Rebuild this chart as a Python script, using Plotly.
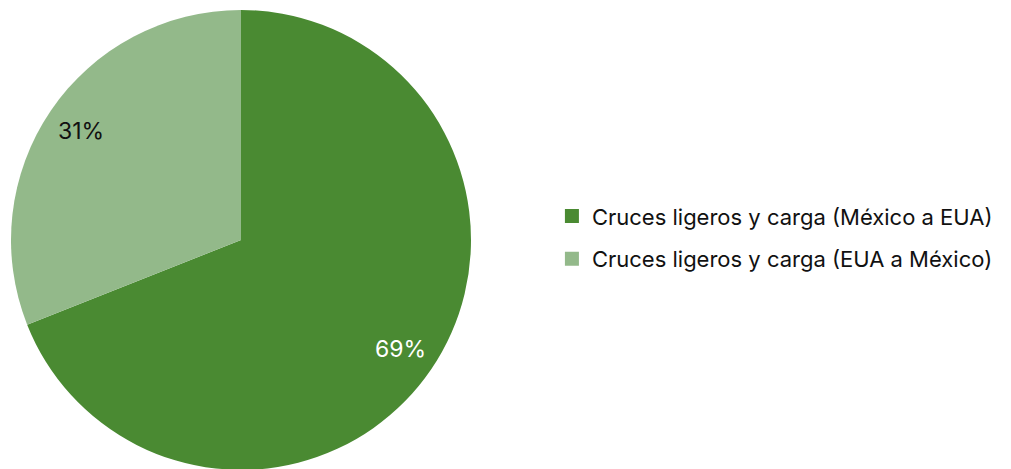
import math
import plotly.graph_objects as go

etiquetas = ["Cruces ligeros y carga (México a EUA)", "Cruces ligeros y carga (EUA a México)"]
valores = [69, 31]
colores = ["#4a8a32", "#93b98a"]
color_texto = ["#ffffff", "#111111"]

W, H = 1011, 469
dom_x = [3 / W, 463 / W]
dom_y = [7 / H, 467 / H]

fig = go.Figure()
fig.add_trace(go.Pie(
    labels=etiquetas,
    values=valores,
    sort=False,
    direction="clockwise",
    rotation=0,
    marker=dict(colors=colores, line=dict(width=0)),
    textinfo="none",
    domain=dict(x=dom_x, y=dom_y),
    hoverinfo="label+percent",
    showlegend=False,
))

# entradas de leyenda
for lab, col in zip(etiquetas, colores):
    fig.add_trace(go.Scatter(x=[None], y=[None], mode="markers", name=lab,
                             legendgroup=lab,
                             marker=dict(symbol="square", size=14, color=col)))

# etiquetas de porcentaje cerca del borde
total = sum(valores)
cx = (dom_x[0] + dom_x[1]) / 2
cy = (dom_y[0] + dom_y[1]) / 2
rad_px = 230
acum = 0
for v, tc in zip(valores, color_texto):
    ang = (acum + v / 2) / total * 2 * math.pi
    acum += v
    r = rad_px * 0.84
    fig.add_annotation(x=cx + r * math.sin(ang) / W, y=cy + r * math.cos(ang) / H,
                       xref="paper", yref="paper", showarrow=False,
                       xanchor="center", yanchor="middle",
                       text=f"{round(v / total * 100)}%",
                       font=dict(size=23, color=tc))

fig.update_layout(
    width=W, height=H,
    margin=dict(l=0, r=0, t=0, b=0),
    paper_bgcolor="white",
    plot_bgcolor="white",
    xaxis=dict(visible=False),
    yaxis=dict(visible=False),
    font=dict(family="Inter, Lato, sans-serif", color="#111111"),
    legend=dict(x=0.538, y=0.51, xanchor="left", yanchor="middle",
                font=dict(size=22, color="#111111"),
                tracegroupgap=11),
)

fig.write_html("out.html")
